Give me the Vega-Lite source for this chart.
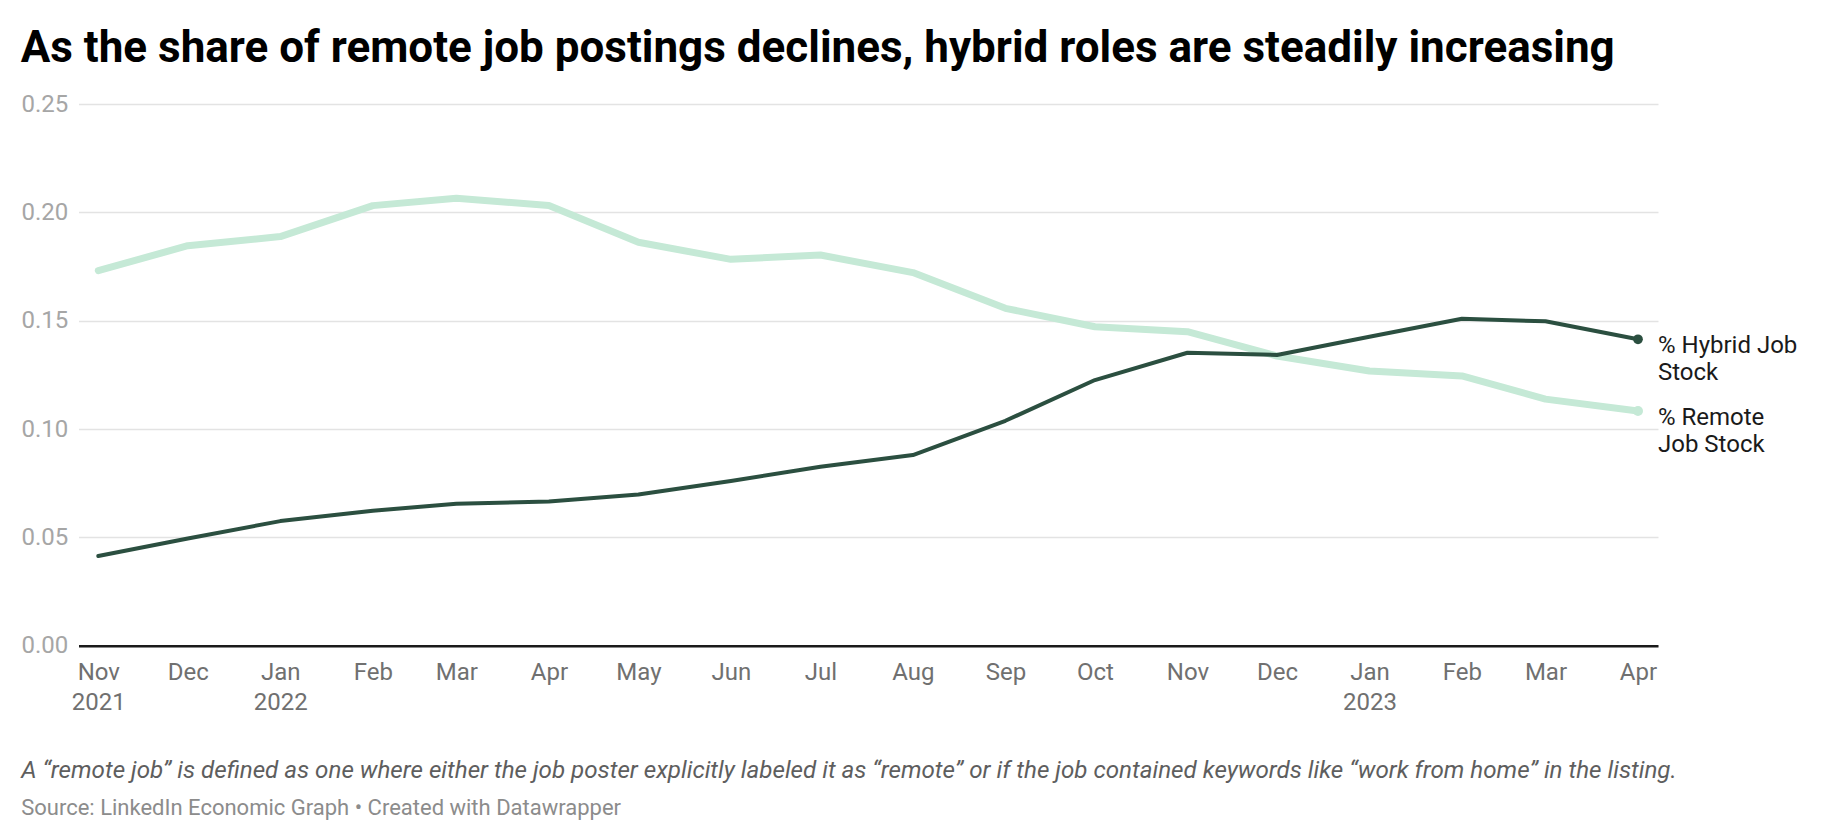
{
  "$schema": "https://vega.github.io/schema/vega-lite/v6.json",
  "width": 1579.5,
  "height": 541.7,
  "autosize": {"type": "none"},
  "padding": {"left": 78.5, "top": 104, "right": 182, "bottom": 194.3},
  "background": "white",
  "config": {"view": {"stroke": null}},
  "title": {
    "text": "As the share of remote job postings declines, hybrid roles are steadily increasing",
    "anchor": "start",
    "frame": "group",
    "font": "Roboto",
    "fontSize": 44,
    "fontWeight": "bold",
    "color": "#000000",
    "baseline": "alphabetic",
    "offset": 31,
    "dx": -57.8,
    "dy": 45
  },
  "data": {
    "values": [
      {"month": "2021-11-01", "series": "Remote", "share": 0.1731},
      {"month": "2021-12-01", "series": "Remote", "share": 0.1846},
      {"month": "2022-01-01", "series": "Remote", "share": 0.1888},
      {"month": "2022-02-01", "series": "Remote", "share": 0.2031},
      {"month": "2022-03-01", "series": "Remote", "share": 0.2065},
      {"month": "2022-04-01", "series": "Remote", "share": 0.2032},
      {"month": "2022-05-01", "series": "Remote", "share": 0.1862},
      {"month": "2022-06-01", "series": "Remote", "share": 0.1783},
      {"month": "2022-07-01", "series": "Remote", "share": 0.1803},
      {"month": "2022-08-01", "series": "Remote", "share": 0.1722},
      {"month": "2022-09-01", "series": "Remote", "share": 0.1557},
      {"month": "2022-10-01", "series": "Remote", "share": 0.1472},
      {"month": "2022-11-01", "series": "Remote", "share": 0.1449},
      {"month": "2022-12-01", "series": "Remote", "share": 0.1337},
      {"month": "2023-01-01", "series": "Remote", "share": 0.1268},
      {"month": "2023-02-01", "series": "Remote", "share": 0.1245},
      {"month": "2023-03-01", "series": "Remote", "share": 0.1138},
      {"month": "2023-04-01", "series": "Remote", "share": 0.1083},
      {"month": "2021-11-01", "series": "Hybrid", "share": 0.0414},
      {"month": "2021-12-01", "series": "Hybrid", "share": 0.0495},
      {"month": "2022-01-01", "series": "Hybrid", "share": 0.0575},
      {"month": "2022-02-01", "series": "Hybrid", "share": 0.0623},
      {"month": "2022-03-01", "series": "Hybrid", "share": 0.0655},
      {"month": "2022-04-01", "series": "Hybrid", "share": 0.0665},
      {"month": "2022-05-01", "series": "Hybrid", "share": 0.0698},
      {"month": "2022-06-01", "series": "Hybrid", "share": 0.0760},
      {"month": "2022-07-01", "series": "Hybrid", "share": 0.0826},
      {"month": "2022-08-01", "series": "Hybrid", "share": 0.0880},
      {"month": "2022-09-01", "series": "Hybrid", "share": 0.1038},
      {"month": "2022-10-01", "series": "Hybrid", "share": 0.1226},
      {"month": "2022-11-01", "series": "Hybrid", "share": 0.1352},
      {"month": "2022-12-01", "series": "Hybrid", "share": 0.1342},
      {"month": "2023-01-01", "series": "Hybrid", "share": 0.1426},
      {"month": "2023-02-01", "series": "Hybrid", "share": 0.1509},
      {"month": "2023-03-01", "series": "Hybrid", "share": 0.1497},
      {"month": "2023-04-01", "series": "Hybrid", "share": 0.1414}
    ]
  },
  "encoding": {
    "x": {
      "field": "month",
      "type": "temporal",
      "scale": {
        "type": "utc",
        "domain": [
          {"year": 2021, "month": 10, "date": 25, "hours": 8, "minutes": 40, "utc": true},
          {"year": 2023, "month": 4, "date": 7, "hours": 17, "utc": true}
        ]
      },
      "axis": {
        "values": [
          {"year": 2021, "month": 11, "date": 1, "utc": true},
          {"year": 2021, "month": 12, "date": 1, "utc": true},
          {"year": 2022, "month": 1, "date": 1, "utc": true},
          {"year": 2022, "month": 2, "date": 1, "utc": true},
          {"year": 2022, "month": 3, "date": 1, "utc": true},
          {"year": 2022, "month": 4, "date": 1, "utc": true},
          {"year": 2022, "month": 5, "date": 1, "utc": true},
          {"year": 2022, "month": 6, "date": 1, "utc": true},
          {"year": 2022, "month": 7, "date": 1, "utc": true},
          {"year": 2022, "month": 8, "date": 1, "utc": true},
          {"year": 2022, "month": 9, "date": 1, "utc": true},
          {"year": 2022, "month": 10, "date": 1, "utc": true},
          {"year": 2022, "month": 11, "date": 1, "utc": true},
          {"year": 2022, "month": 12, "date": 1, "utc": true},
          {"year": 2023, "month": 1, "date": 1, "utc": true},
          {"year": 2023, "month": 2, "date": 1, "utc": true},
          {"year": 2023, "month": 3, "date": 1, "utc": true},
          {"year": 2023, "month": 4, "date": 1, "utc": true}
        ],
        "labelExpr": "[utcFormat(datum.value, '%b'), (utcmonth(datum.value) === 0 || (utcyear(datum.value) === 2021 && utcmonth(datum.value) === 10)) ? utcFormat(datum.value, '%Y') : '']",
        "grid": false,
        "ticks": false,
        "domainColor": "#1a1a1a",
        "domainWidth": 2.5,
        "labelFont": "Roboto",
        "labelFontSize": 24,
        "labelColor": "#707070",
        "labelPadding": 15,
        "labelBaseline": "top",
        "labelLineHeight": 30,
        "labelOverlap": false,
        "labelFlush": false,
        "title": "A “remote job” is defined as one where either the job poster explicitly labeled it as “remote” or if the job contained keywords like “work from home” in the listing.",
        "titleFont": "Roboto",
        "titleFontSize": 24.2,
        "titleFontStyle": "italic",
        "titleFontWeight": "normal",
        "titleColor": "#5e5e5e",
        "titleAlign": "left",
        "titleBaseline": "alphabetic",
        "titleX": -57.8,
        "titleY": 131.6
      }
    },
    "y": {
      "field": "share",
      "type": "quantitative",
      "scale": {"domain": [0, 0.25], "nice": false},
      "axis": {
        "values": [0, 0.05, 0.1, 0.15, 0.2, 0.25],
        "format": ".2f",
        "domain": false,
        "ticks": false,
        "grid": true,
        "gridColor": "#e3e3e3",
        "gridWidth": 1.5,
        "labelAlign": "left",
        "labelBaseline": "middle",
        "labelPadding": 57.5,
        "labelFont": "Roboto",
        "labelFontSize": 24,
        "labelColor": "#a6a6a6",
        "title": "Source: LinkedIn Economic Graph • Created with Datawrapper",
        "titleFont": "Roboto",
        "titleFontSize": 22,
        "titleFontWeight": "normal",
        "titleColor": "#8c8c8c",
        "titleAngle": 0,
        "titleAlign": "left",
        "titleBaseline": "alphabetic",
        "titleX": -57.8,
        "titleY": 710
      }
    }
  },
  "layer": [
    {
      "transform": [{"filter": "datum.series === 'Remote'"}],
      "mark": {"type": "line", "color": "#c5e9d6", "strokeWidth": 7, "strokeJoin": "round", "strokeCap": "round"}
    },
    {
      "transform": [{"filter": "datum.series === 'Remote' && utcyear(datum.month) === 2023 && utcmonth(datum.month) === 3"}],
      "mark": {"type": "circle", "color": "#c5e9d6", "size": 100, "opacity": 1}
    },
    {
      "transform": [{"filter": "datum.series === 'Hybrid'"}],
      "mark": {"type": "line", "color": "#2b4f40", "strokeWidth": 4, "strokeJoin": "round", "strokeCap": "round"}
    },
    {
      "transform": [{"filter": "datum.series === 'Hybrid' && utcyear(datum.month) === 2023 && utcmonth(datum.month) === 3"}],
      "mark": {"type": "circle", "color": "#2b4f40", "size": 95, "opacity": 1}
    },
    {
      "transform": [{"filter": "datum.series === 'Remote' && utcyear(datum.month) === 2023 && utcmonth(datum.month) === 3"}],
      "mark": {"type": "text", "align": "left", "baseline": "alphabetic", "dx": 20, "dy": 14, "font": "Roboto", "fontSize": 24, "lineHeight": 27, "color": "#1a1a1a"},
      "encoding": {"text": {"value": ["% Remote", "Job Stock"]}}
    },
    {
      "transform": [{"filter": "datum.series === 'Hybrid' && utcyear(datum.month) === 2023 && utcmonth(datum.month) === 3"}],
      "mark": {"type": "text", "align": "left", "baseline": "alphabetic", "dx": 20, "dy": 14, "font": "Roboto", "fontSize": 24, "lineHeight": 27, "color": "#1a1a1a"},
      "encoding": {"text": {"value": ["% Hybrid Job", "Stock"]}}
    }
  ]
}
